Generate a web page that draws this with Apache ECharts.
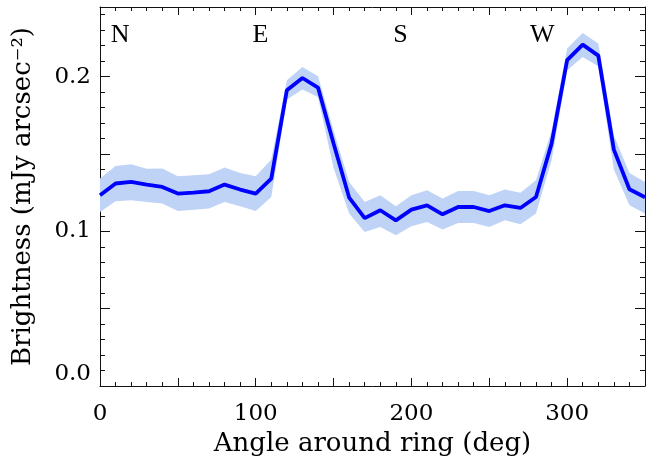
<!DOCTYPE html>
<html>
<head>
<meta charset="utf-8">
<script src="https://cdn.jsdelivr.net/npm/echarts@6/dist/echarts.min.js"></script>
<style>
html,body{margin:0;padding:0;background:#fff;}
#chart{width:648px;height:464px;}
</style>
</head>
<body>
<div id="chart"></div>
<script>
// Angle around ring (deg)
var angles = [0,10,20,30,40,50,60,70,80,90,100,110,120,130,140,150,160,170,180,190,200,210,220,230,240,250,260,270,280,290,300,310,320,330,340,350];
// Brightness (mJy arcsec^-2)
var brightness = [0.1233,0.1309,0.1319,0.1302,0.1287,0.1244,0.1250,0.1259,0.1302,0.1270,0.1244,0.1341,0.1912,0.1991,0.1929,0.1567,0.1218,0.1085,0.1136,0.1071,0.1140,0.1168,0.1110,0.1157,0.1157,0.1131,0.1168,0.1151,0.1222,0.1567,0.2106,0.2207,0.2136,0.1528,0.1272,0.1220];
var upper = [0.1341,0.1422,0.1433,0.1405,0.1406,0.1356,0.1362,0.1369,0.1412,0.1377,0.1356,0.1464,0.1976,0.2062,0.2002,0.1650,0.1319,0.1190,0.1233,0.1162,0.1233,0.1265,0.1212,0.1261,0.1261,0.1233,0.1270,0.1250,0.1330,0.1650,0.2181,0.2282,0.2214,0.1620,0.1377,0.1319];
var lower = [0.1125,0.1194,0.1201,0.1189,0.1179,0.1131,0.1140,0.1147,0.1190,0.1162,0.1131,0.1222,0.1852,0.1916,0.1869,0.1410,0.1115,0.0996,0.1028,0.0974,0.1033,0.1060,0.1011,0.1054,0.1054,0.1028,0.1071,0.1046,0.1115,0.1460,0.2041,0.2127,0.2067,0.1400,0.1168,0.1115];
// Direction labels
var dirNames = ['N','E','S','W'];
var dirAngles = [13,103,193,284];
var dirLevel = 0.227;

var xTickLabels = [0,100,200,300];
var yTickLabels = [0.0,0.1,0.2];

var chart = echarts.init(document.getElementById('chart'), null, {renderer:'canvas'});

var lineData = angles.map(function(a,i){return [a, brightness[i]];});
var bandData = angles.map(function(a,i){return [a, lower[i], upper[i]];});
var dirData = dirAngles.map(function(a,i){return [a, dirLevel, dirNames[i]];});

var axisCol = '#111';
var serif = 'DejaVu Serif';

function xAx(pos, showLabel){
  return {
    type:'value', position:pos, min:0, max:350, interval:50,
    axisLine:{show:true, onZero:false, lineStyle:{color:axisCol, width:1}},
    axisTick:{show:true, inside:true, length:8, lineStyle:{color:axisCol}},
    minorTick:{show:true, splitNumber:5, length:4, lineStyle:{color:axisCol}},
    splitLine:{show:false},
    axisLabel:{show:showLabel, margin:17, color:'#000', fontFamily:serif, fontSize:23,
      formatter:function(v){ return xTickLabels.indexOf(Math.round(v))>=0 && Math.abs(v-Math.round(v))<1e-6 ? String(Math.round(v)) : ''; }},
    name: showLabel ? 'Angle around ring (deg)' : '',
    nameLocation:'middle', nameGap:43,
    nameTextStyle:{color:'#000', fontFamily:serif, fontSize:26}
  };
}
function yAx(pos, showLabel){
  return {
    type:'value', position:pos, min:0, max:0.245, interval:0.05,
    axisLine:{show:true, onZero:false, lineStyle:{color:axisCol, width:1}},
    axisTick:{show:true, inside:true, length:10, lineStyle:{color:axisCol}},
    minorTick:{show:true, splitNumber:5, length:5, lineStyle:{color:axisCol}},
    splitLine:{show:false},
    axisLabel:{show:showLabel, margin:9, color:'#000', fontFamily:serif, fontSize:23,
      verticalAlignMinLabel:'bottom',
      formatter:function(v){
        for (var i=0;i<yTickLabels.length;i++){ if (Math.abs(v-yTickLabels[i])<1e-6) return yTickLabels[i].toFixed(1); }
        return '';
      }},
    name: showLabel ? 'Brightness (mJy arcsec\u207B\u00B2)' : '',
    nameLocation:'middle', nameGap:64, nameRotate:90,
    nameTextStyle:{color:'#000', fontFamily:serif, fontSize:26, padding:[0,0,0,0]}
  };
}

chart.setOption({
  animation:false,
  backgroundColor:'#fff',
  grid:{left:100, right:0, top:7, bottom:78, containLabel:false},
  xAxis:[xAx('bottom', true), xAx('top', false)],
  yAxis:[yAx('left', true), yAx('right', false)],
  series:[
    {type:'custom', silent:true, z:1, clip:true,
     data:[0],
     renderItem:function(params, api){
       var pts = [];
       for (var i=0;i<bandData.length;i++) pts.push(api.coord([bandData[i][0], bandData[i][2]]));
       for (var j=bandData.length-1;j>=0;j--) pts.push(api.coord([bandData[j][0], bandData[j][1]]));
       return {type:'polygon', shape:{points:pts}, style:{fill:'#bfd3f6', stroke:null}};
     }},
    {type:'line', data:lineData, symbol:'none', silent:true,
     lineStyle:{color:'#0000ff', width:3.8}, z:3},
    {type:'custom', silent:true, z:4, data:dirData,
     renderItem:function(params, api){
       var p = api.coord([api.value(0), api.value(1)]);
       return {type:'text', x:p[0], y:p[1],
         style:{text:dirNames[params.dataIndex], fill:'#000', font:'26px "Liberation Serif"', align:'center', verticalAlign:'middle'}};
     }}
  ]
});
</script>
</body>
</html>
